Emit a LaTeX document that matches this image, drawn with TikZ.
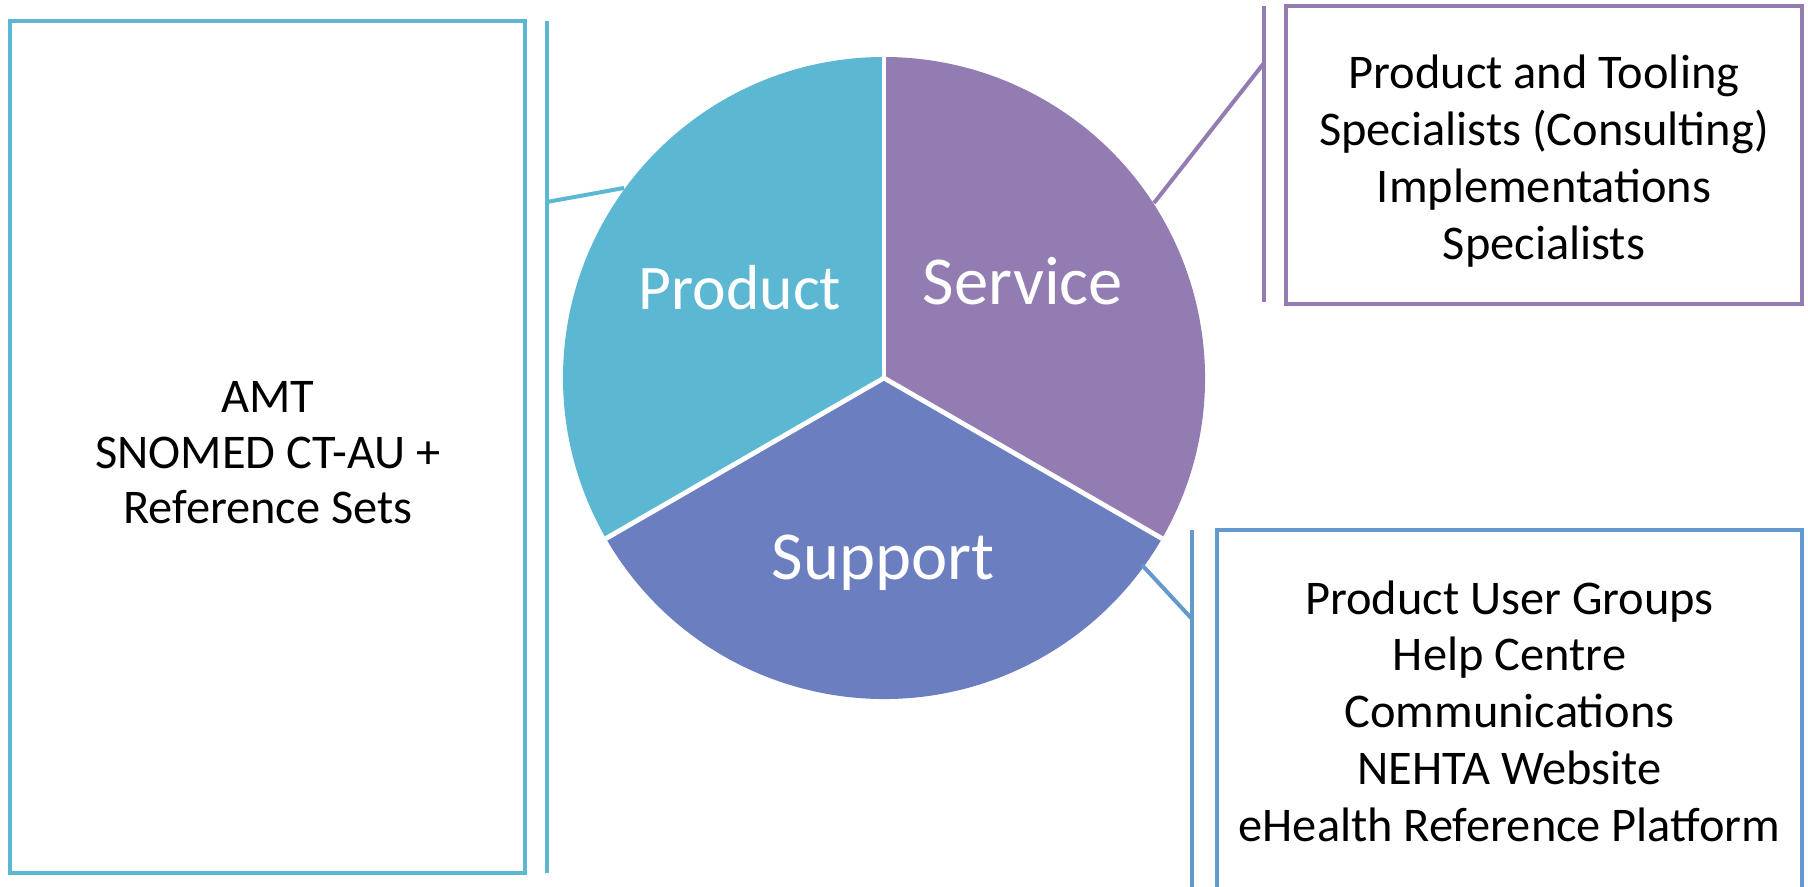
\documentclass[tikz,border=0pt]{standalone}
\usepackage{fontspec}
\setmainfont{Carlito}
\definecolor{prodc}{HTML}{5CB8D2}
\definecolor{servc}{HTML}{937CB1}
\definecolor{suppc}{HTML}{6B7EC0}
\definecolor{boxblue}{HTML}{6499CD}
\begin{document}
\begin{tikzpicture}[x=0.5pt,y=0.5pt,
  frame/.style={draw, line width=2.25pt, rectangle, inner sep=0pt},
  boxtext/.style={align=center, text=black, font=\fontsize{24.2}{28.4}\selectfont},
  wedgelabel/.style={text=white, font=\fontsize{34.3}{40}\selectfont},
  link/.style={line width=2pt},
  sep/.style={draw=white, line width=2.4pt}]
\useasboundingbox (0,0) rectangle (1808,887);
\clip (0,0) rectangle (1808,887);
% pie
\coordinate (C) at (884,509);
\fill[prodc] (C) -- ++(90:160.5pt) arc[start angle=90, end angle=210, radius=160.5pt] -- cycle;
\fill[servc] (C) -- ++(-30:160.5pt) arc[start angle=-30, end angle=90, radius=160.5pt] -- cycle;
\fill[suppc] (C) -- ++(210:160.5pt) arc[start angle=210, end angle=330, radius=160.5pt] -- cycle;
\draw[sep] (C) -- ++(90:160.5pt);
\draw[sep] (C) -- ++(210:160.5pt);
\draw[sep] (C) -- ++(330:160.5pt);
\node[wedgelabel, font=\fontsize{31.8}{38}\selectfont] (lprod) at (740,599) {Product};
\node[wedgelabel] (lserv) at (1023,606) {Service};
\node[wedgelabel] (lsupp) at (883,324) {Support};
% left box
\node[frame, draw=prodc, minimum width=257.5pt, minimum height=426pt] (amtbox) at (267.5,440) {};
\node[boxtext, font=\fontsize{24.2}{27.7}\selectfont] (amttext) at (268,434) {AMT\\SNOMED CT-AU +\\Reference Sets};
\coordinate (lt) at (547,866);
\coordinate (lb) at (547,14);
\draw[prodc, line width=2.25pt] (lt) -- (lb);
\coordinate (pc) at (624,699);
\coordinate (pl) at (547,685);
\draw[link, prodc] (pc) -- (pl);
% service box
\node[frame, draw=servc, minimum width=258pt, minimum height=149pt] (servbox) at (1544,732) {};
\node[boxtext] (servtext) at (1544,726) {Product and Tooling\\Specialists (Consulting)\\Implementations\\Specialists};
\coordinate (st) at (1264,881);
\coordinate (sb) at (1264,585);
\draw[servc, line width=2.25pt] (st) -- (sb);
\coordinate (sc) at (1154,684);
\coordinate (sl) at (1264,824);
\draw[link, servc] (sc) -- (sl);
% support box
\node[frame, draw=boxblue, minimum width=292.5pt, minimum height=181pt] (suppbox) at (1509.5,176) {};
\node[boxtext] (supptext) at (1509.5,176) {Product User Groups\\Help Centre\\Communications\\NEHTA Website\\eHealth Reference Platform};
\coordinate (bt) at (1192,357);
\coordinate (bb) at (1192,-5);
\draw[boxblue, line width=2.25pt] (bt) -- (bb);
\coordinate (uc) at (1142,322);
\coordinate (ul) at (1192,268);
\draw[link, boxblue] (uc) -- (ul);
\end{tikzpicture}
\end{document}
